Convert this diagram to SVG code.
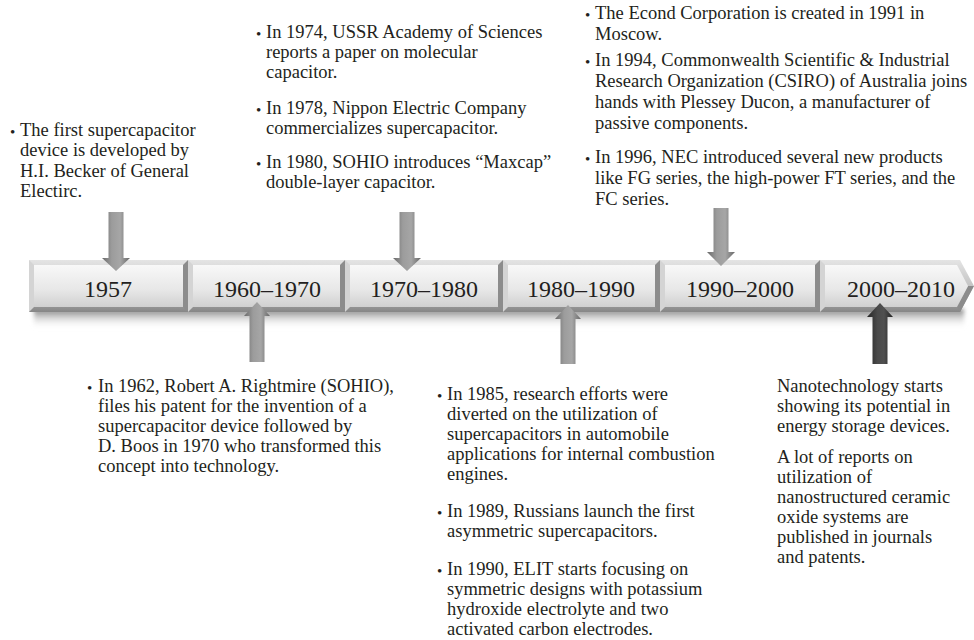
<svg xmlns="http://www.w3.org/2000/svg" width="974" height="640" viewBox="0 0 974 640">
<defs>
<linearGradient id="gOuter" x1="0" y1="0" x2="0" y2="1"><stop offset="0" stop-color="#e4e4e4"/><stop offset="0.5" stop-color="#c4c4c4"/><stop offset="1" stop-color="#878787"/></linearGradient>
<linearGradient id="gFace" x1="0" y1="0" x2="0" y2="1"><stop offset="0" stop-color="#f8f8f8"/><stop offset="0.6" stop-color="#e7e7e7"/><stop offset="1" stop-color="#d0d0d0"/></linearGradient>
<linearGradient id="gShadow" x1="0" y1="0" x2="0" y2="1"><stop offset="0" stop-color="#7a7a7a"/><stop offset="1" stop-color="#ffffff" stop-opacity="0"/></linearGradient>
<linearGradient id="gArrow" x1="0" y1="0" x2="1" y2="0"><stop offset="0" stop-color="#6a6a6a"/><stop offset="0.35" stop-color="#9c9c9c"/><stop offset="0.65" stop-color="#a6a6a6"/><stop offset="1" stop-color="#686868"/></linearGradient>
<linearGradient id="gDark" x1="0" y1="0" x2="1" y2="0"><stop offset="0" stop-color="#262626"/><stop offset="0.4" stop-color="#4a4a4a"/><stop offset="0.65" stop-color="#505050"/><stop offset="1" stop-color="#222"/></linearGradient>
<filter id="blur" x="-5%" y="-50%" width="110%" height="200%"><feGaussianBlur stdDeviation="2"/></filter>
<style>
.outer{fill:url(#gOuter)}
.face{fill:url(#gFace)}
.lb{fill:#d4d4d4}
.rb{fill:#8c8c8c}
.yr{font-family:"Liberation Serif","Times New Roman",serif;font-size:24px;fill:#231f20;text-anchor:middle}
.t{font-family:"Liberation Serif","Times New Roman",serif;font-size:18.5px;fill:#231f20}
.b{font-family:"Liberation Serif","Times New Roman",serif;font-size:15px;fill:#231f20}
.arr{fill:url(#gArrow)}
.dark{fill:url(#gDark)}
</style>
</defs>
<rect width="974" height="640" fill="#ffffff"/>
<rect x="34" y="309" width="930" height="20" fill="url(#gShadow)" filter="url(#blur)"/>
<g id="timeline">
<g id="seg-1957">
<rect class="outer" x="29" y="260" width="159" height="52"/>
<polygon class="lb" points="29,260 34,265 34,307 29,312"/>
<polygon class="rb" points="188,260 183,265 183,307 188,312"/>
<rect class="face" x="34" y="265" width="149" height="42"/>
<text class="yr" x="108" y="297">1957</text>
</g>
<g id="seg-1960-1970">
<rect class="outer" x="188" y="260" width="157" height="52"/>
<polygon class="lb" points="188,260 193,265 193,307 188,312"/>
<polygon class="rb" points="345,260 340,265 340,307 345,312"/>
<rect class="face" x="193" y="265" width="147" height="42"/>
<text class="yr" x="267" y="297">1960–1970</text>
</g>
<g id="seg-1970-1980">
<rect class="outer" x="345" y="260" width="158" height="52"/>
<polygon class="lb" points="345,260 350,265 350,307 345,312"/>
<polygon class="rb" points="503,260 498,265 498,307 503,312"/>
<rect class="face" x="350" y="265" width="148" height="42"/>
<text class="yr" x="424" y="297">1970–1980</text>
</g>
<g id="seg-1980-1990">
<rect class="outer" x="503" y="260" width="157" height="52"/>
<polygon class="lb" points="503,260 508,265 508,307 503,312"/>
<polygon class="rb" points="660,260 655,265 655,307 660,312"/>
<rect class="face" x="508" y="265" width="147" height="42"/>
<text class="yr" x="581" y="297">1980–1990</text>
</g>
<g id="seg-1990-2000">
<rect class="outer" x="660" y="260" width="160" height="52"/>
<polygon class="lb" points="660,260 665,265 665,307 660,312"/>
<polygon class="rb" points="820,260 815,265 815,307 820,312"/>
<rect class="face" x="665" y="265" width="150" height="42"/>
<text class="yr" x="740" y="297">1990–2000</text>
</g>
<g id="seg-2000-2010">
<polygon class="outer" points="820,260 960,260 974,286 960,312 820,312"/>
<polygon class="lb" points="820,260 825,265 825,307 820,312"/>
<polygon class="rb" points="974,286 968,286 957,307 960,312"/>
<polygon class="face" points="825,265 957,265 968,286 957,307 825,307"/>
<text class="yr" x="901" y="297">2000–2010</text>
</g>
</g>
<g id="connectors">
<path class="arr" d="M108.5 212H123.5V258H130L116 271L102 258H108.5Z"/>
<path class="arr" d="M399.5 212H414.5V258H421L407 271L393 258H399.5Z"/>
<path class="arr" d="M713.5 208H728.5V252H735L721 266L707 252H713.5Z"/>
<path class="arr" d="M249.5 362V316H244L257 302L270 316H264.5V362Z"/>
<path class="arr" d="M560.5 364V319H555L568 305L581 319H575.5V364Z"/>
<path class="dark" d="M872.5 364V317H867L880 303L893 317H887.5V364Z"/>
</g>
<g id="note-1957">
<text class="b" x="10" y="137">•</text>
<text class="t" x="20" y="136">The first supercapacitor</text>
<text class="t" x="20" y="156">device is developed by</text>
<text class="t" x="20" y="177">H.I. Becker of General</text>
<text class="t" x="20" y="197">Electirc.</text>
</g>
<g id="note-1970-1980">
<text class="b" x="256" y="39">•</text>
<text class="t" x="266" y="38">In 1974, USSR Academy of Sciences</text>
<text class="t" x="266" y="58">reports a paper on molecular</text>
<text class="t" x="266" y="78">capacitor.</text>
<text class="b" x="256" y="115">•</text>
<text class="t" x="266" y="114">In 1978, Nippon Electric Company</text>
<text class="t" x="266" y="134">commercializes supercapacitor.</text>
<text class="b" x="256" y="169">•</text>
<text class="t" x="266" y="168">In 1980, SOHIO introduces “Maxcap”</text>
<text class="t" x="266" y="188">double-layer capacitor.</text>
</g>
<g id="note-1990-2000">
<text class="b" x="585" y="20">•</text>
<text class="t" x="595" y="19">The Econd Corporation is created in 1991 in</text>
<text class="t" x="595" y="40">Moscow.</text>
<text class="b" x="585" y="67">•</text>
<text class="t" x="595" y="66">In 1994, Commonwealth Scientific &amp; Industrial</text>
<text class="t" x="595" y="87">Research Organization (CSIRO) of Australia joins</text>
<text class="t" x="595" y="108">hands with Plessey Ducon, a manufacturer of</text>
<text class="t" x="595" y="129">passive components.</text>
<text class="b" x="585" y="164">•</text>
<text class="t" x="595" y="163">In 1996, NEC introduced several new products</text>
<text class="t" x="595" y="184">like FG series, the high-power FT series, and the</text>
<text class="t" x="595" y="205">FC series.</text>
</g>
<g id="note-1960-1970">
<text class="b" x="87" y="393">•</text>
<text class="t" x="98" y="392">In 1962, Robert A. Rightmire (SOHIO),</text>
<text class="t" x="98" y="412">files his patent for the invention of a</text>
<text class="t" x="98" y="432">supercapacitor device followed by</text>
<text class="t" x="98" y="452">D. Boos in 1970 who transformed this</text>
<text class="t" x="98" y="472">concept into technology.</text>
</g>
<g id="note-1980-1990">
<text class="b" x="437" y="401">•</text>
<text class="t" x="447" y="400">In 1985, research efforts were</text>
<text class="t" x="447" y="420">diverted on the utilization of</text>
<text class="t" x="447" y="440">supercapacitors in automobile</text>
<text class="t" x="447" y="460">applications for internal combustion</text>
<text class="t" x="447" y="480">engines.</text>
<text class="b" x="437" y="518">•</text>
<text class="t" x="447" y="517">In 1989, Russians launch the first</text>
<text class="t" x="447" y="537">asymmetric supercapacitors.</text>
<text class="b" x="437" y="576">•</text>
<text class="t" x="447" y="575">In 1990, ELIT starts focusing on</text>
<text class="t" x="447" y="595">symmetric designs with potassium</text>
<text class="t" x="447" y="615">hydroxide electrolyte and two</text>
<text class="t" x="447" y="635">activated carbon electrodes.</text>
</g>
<g id="note-2000-2010">
<text class="t" x="777" y="392">Nanotechnology starts</text>
<text class="t" x="777" y="412">showing its potential in</text>
<text class="t" x="777" y="432">energy storage devices.</text>
<text class="t" x="777" y="463">A lot of reports on</text>
<text class="t" x="777" y="483">utilization of</text>
<text class="t" x="777" y="503">nanostructured ceramic</text>
<text class="t" x="777" y="523">oxide systems are</text>
<text class="t" x="777" y="543">published in journals</text>
<text class="t" x="777" y="563">and patents.</text>
</g>
</svg>
